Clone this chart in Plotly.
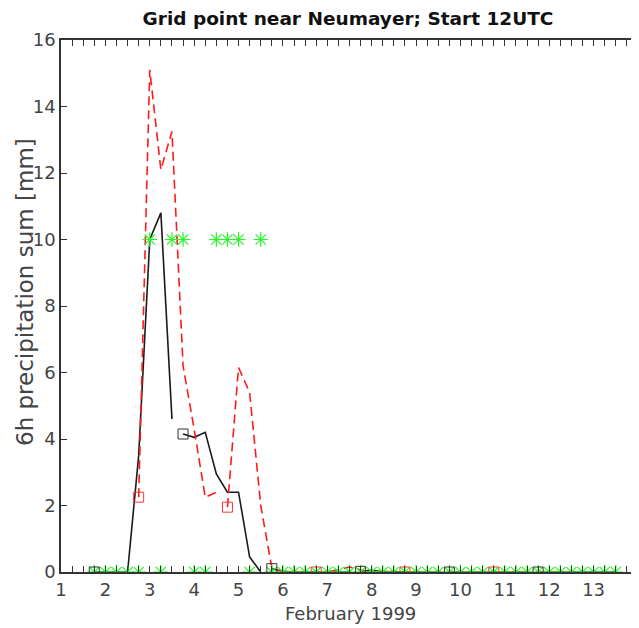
import plotly.graph_objects as go

# ---- data ----
step_days = 0.25  # 6-hourly values

black_starts = [1.75, 3.75, 5.75, 7.75, 9.75, 11.75]
black_fc1 = [0.0, 0.0, 0.0, 0.0, 3.5, 10.0, 10.8, 4.6]
black_fc2 = [4.15, 4.05, 4.2, 2.95, 2.4, 2.4, 0.45, 0.0]
black_fc3 = [0.1, 0.02, 0.0, 0.0, 0.0, 0.0, 0.0, 0.0]
black_fc4 = [0.02, 0.05, 0.01, 0.0, 0.0, 0.0, 0.0, 0.0]
black_fc5 = [0.0, 0.0, 0.0, 0.0, 0.0, 0.0, 0.0, 0.0]
black_fc6 = [0.0, 0.0, 0.0, 0.0, 0.0, 0.0, 0.0, 0.0]
black_series = [black_fc1, black_fc2, black_fc3, black_fc4, black_fc5, black_fc6]

red_starts = [2.75, 4.75, 6.75, 8.75, 10.75]
red_fc1 = [2.25, 15.1, 12.1, 13.25, 6.2, 4.3, 2.25, 2.4]
red_fc2 = [1.95, 6.15, 5.4, 2.0, 0.12, 0.0, 0.0, 0.0]
red_fc3 = [0.0, 0.0, 0.07, 0.15, 0.06, 0.0, 0.0, 0.0]
red_fc4 = [0.0, 0.0, 0.0, 0.0, 0.0, 0.0, 0.0, 0.0]
red_fc5 = [0.0, 0.0, 0.0, 0.0, 0.0, 0.0, 0.0, 0.0]
red_series = [red_fc1, red_fc2, red_fc3, red_fc4, red_fc5]

obs_start = 1.75
obs_values = [0, 0, 0, 0, 0, 10, 0, 10, 10, 0, 0, 10, 10, 10, 0, 10,
              0, 0, 0, 0, 0, 0, 0, 0, 0, 0, 0, 0, 0, 0, 0, 0,
              0, 0, 0, 0, 0, 0, 0, 0, 0, 0, 0, 0, 0, 0, 0, 0]

x_ticks = list(range(1, 14))
title_text = "Grid point near Neumayer; Start 12UTC"
xlabel = "February 1999"
ylabel = "6h precipitation sum [mm]"


def times(start, n):
    return [start + i * step_days for i in range(n)]


BLACK = "#1a1a1a"
RED = "#ff1a1a"
GREEN = "rgb(40,245,40)"
AXC = "#333333"
TXT = "#444444"
FONT = "DejaVu Sans"

# page body has an 8px margin: figure sized to fit the window
OFF = 8
W, H = 631, 620
L, R, T = 53, 1, 32
PH = 532
B = H - T - PH
PW = W - L - R

fig = go.Figure()

# forecast lines
for s, v in zip(black_starts, black_series):
    fig.add_trace(go.Scatter(x=times(s, len(v)), y=v, mode="lines",
                             line=dict(color=BLACK, width=1.6),
                             showlegend=False, hoverinfo="skip"))
for s, v in zip(red_starts, red_series):
    fig.add_trace(go.Scatter(x=times(s, len(v)), y=v, mode="lines",
                             line=dict(color=RED, width=1.6, dash="9px,5px"),
                             showlegend=False, hoverinfo="skip"))

# observations
fig.add_trace(go.Scatter(x=times(obs_start, len(obs_values)), y=obs_values,
                         mode="markers",
                         marker=dict(symbol="asterisk-open", size=12, color=GREEN,
                                     line=dict(color=GREEN, width=1.2)),
                         showlegend=False, hoverinfo="skip"))

# forecast start markers
fig.add_trace(go.Scatter(x=black_starts, y=[v[0] for v in black_series],
                         mode="markers",
                         marker=dict(symbol="square-open", size=10, color="#333333",
                                     line=dict(width=1)),
                         showlegend=False, hoverinfo="skip"))
fig.add_trace(go.Scatter(x=red_starts, y=[v[0] for v in red_series],
                         mode="markers",
                         marker=dict(symbol="square-open", size=10, color="#ff3333",
                                     line=dict(width=1)),
                         showlegend=False, hoverinfo="skip"))

fig.update_layout(
    width=W, height=H,
    margin=dict(l=L, r=R, t=T, b=B, autoexpand=False),
    paper_bgcolor="white", plot_bgcolor="white",
    font=dict(family=FONT, color=TXT, size=18),
    title=dict(text=f"<b>{title_text}</b>", x=(348 - OFF) / W, xanchor="center",
               y=1 - (19 - OFF) / H, yanchor="middle",
               font=dict(family=FONT, size=18.5, color="#111111")),
    xaxis=dict(range=[1, 14], tickmode="array", tickvals=x_ticks,
               ticktext=[str(t) for t in x_ticks],
               showgrid=False, zeroline=False, automargin=False,
               showline=True, linecolor=AXC, linewidth=1.5, mirror="allticks",
               ticks="inside", ticklen=6, tickcolor=AXC, tickwidth=1,
               minor=dict(dtick=0.25, tick0=1, ticks="inside", ticklen=6,
                          tickcolor=AXC, tickwidth=1, showgrid=False),
               tickfont=dict(size=18, color=TXT), ticklabelstandoff=1),
    yaxis=dict(range=[0, 16], tickmode="linear", tick0=0, dtick=2,
               showgrid=False, zeroline=False, automargin=False,
               showline=True, linecolor=AXC, linewidth=1.5, mirror="allticks",
               ticks="inside", ticklen=6, tickcolor=AXC, tickwidth=1,
               tickfont=dict(size=18, color=TXT)),
    annotations=[
        dict(text=ylabel, xref="paper", yref="paper", x=(25 - OFF - L) / PW,
             y=(PH - (292 - OFF - T)) / PH, xanchor="center", yanchor="middle",
             textangle=-90, showarrow=False,
             font=dict(size=23, color=TXT, family=FONT)),
        dict(text=xlabel, xref="paper", yref="paper", x=(350 - OFF - L) / PW,
             y=-(613 - OFF - (T + PH)) / PH, xanchor="center", yanchor="middle",
             showarrow=False, font=dict(size=18, color=TXT, family=FONT)),
    ],
)

fig.write_html("out.html")
